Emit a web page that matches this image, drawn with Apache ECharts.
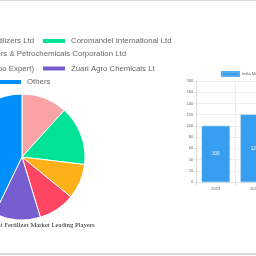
<!DOCTYPE html>
<html>
<head>
<meta charset="utf-8">
<script src="https://cdn.jsdelivr.net/npm/echarts@6/dist/echarts.min.js"></script>
<style>
html,body{margin:0;padding:0;background:#fff;}
#wrap{position:relative;width:256px;height:256px;overflow:hidden;}
#chart{position:absolute;left:0;top:0;width:256px;height:256px;}
.ln{position:absolute;left:0;width:256px;background:#d9d9d9;}
</style>
</head>
<body>
<div id="wrap">
<div id="chart"></div>
<div class="ln" style="top:0;height:1px;"></div>
<div class="ln" style="top:253px;height:2px;"></div>
</div>
<script>
// Pie: leading players share (%)
const playerNames = [
  'Chambal Fertilizers Ltd',
  'Coromandel International Ltd',
  'Deepak Fertilizers & Petrochemicals Corporation Ltd',
  'Aries Agro Ltd (Agroo Expert)',
  'Zuari Agro Chemicals Lt',
  'Others'
];
const playerShares = [11.7, 15.2, 9.0, 9.4, 11.9, 42.8];
const playerColors = ['#f9a3a4', '#00e396', '#feb019', '#ff4560', '#775dd0', '#008ffb'];
const pieTitle = 'India Micronutrient Fertilizer Market Leading Players';

// Bar: market size
const barSeriesName = 'India Micronutrient Fertilizer Market';
const years = ['2023', '2024'];
const marketValues = [100, 120];

const chart = echarts.init(document.getElementById('chart'), null, {renderer: 'canvas'});

const legendText = {fontFamily: 'Liberation Sans, Arial, sans-serif', fontSize: 7.8, color: '#666', lineHeight: 10};
function pieLegend(name, pos) {
  return Object.assign({
    data: [name], icon: 'rect', itemWidth: 24, itemHeight: 6, itemGap: 0, padding: 0,
    textStyle: legendText, selectedMode: false, orient: 'horizontal'
  }, pos);
}

const option = {
  animation: false,
  color: playerColors,
  title: {
    text: pieTitle, left: -50, top: 222, padding: 0,
    textStyle: {fontFamily: 'Liberation Serif, Times New Roman, serif', fontSize: 6.7, fontWeight: 'normal', color: '#222'}
  },
  legend: [
    pieLegend(playerNames[0], {right: 222, top: 36}),
    pieLegend(playerNames[1], {left: 41, top: 36}),
    pieLegend(playerNames[2], {right: 130, top: 49}),
    pieLegend(playerNames[3], {right: 222, top: 63.5}),
    pieLegend(playerNames[4], {left: 41, top: 63.5}),
    pieLegend(playerNames[5], {left: -3, top: 77}),
    {
      data: [barSeriesName], icon: 'rect', itemWidth: 17, itemHeight: 4, padding: 0,
      left: 221, top: 71, selectedMode: false,
      textStyle: {fontFamily: 'Liberation Sans, Arial, sans-serif', fontSize: 4, color: '#666', padding: [0, 0, 0, -2]}
    }
  ],
  grid: {left: 196.3, top: 81, bottom: 74, right: -18, containLabel: false, outerBoundsMode: 'none'},
  xAxis: {
    type: 'category', data: years, boundaryGap: true,
    axisLine: {show: true, lineStyle: {color: '#e0e0e0', width: 1}},
    axisTick: {show: true, length: 3, lineStyle: {color: '#e0e0e0'}},
    splitLine: {show: true, lineStyle: {color: '#eeeeee', width: 1}},
    axisLabel: {fontFamily: 'Liberation Sans, Arial, sans-serif', fontSize: 4, color: '#666', margin: 5}
  },
  yAxis: {
    type: 'value', min: 0, max: 180, interval: 20,
    axisLine: {show: true, lineStyle: {color: '#e0e0e0', width: 1}},
    axisTick: {show: true, length: 2.5, lineStyle: {color: '#e8e8e8'}},
    splitLine: {show: true, lineStyle: {color: '#eeeeee', width: 1}},
    axisLabel: {fontFamily: 'Liberation Sans, Arial, sans-serif', fontSize: 4, color: '#666', margin: 3}
  },
  series: [
    {
      type: 'pie', name: 'Leading Players', center: [22, 157], radius: 63,
      startAngle: 90, clockwise: true, label: {show: false}, labelLine: {show: false},
      itemStyle: {borderColor: '#fff', borderWidth: 1},
      emphasis: {disabled: true},
      data: playerNames.map((n, i) => ({name: n, value: playerShares[i]}))
    },
    {
      type: 'bar', name: barSeriesName, data: marketValues, barWidth: '72%',
      itemStyle: {color: '#379ef0', borderColor: '#5aaef0', borderWidth: 0.5},
      label: {show: true, position: 'inside', color: '#fff', fontSize: 4.5, fontFamily: 'Liberation Sans, Arial, sans-serif'},
      emphasis: {disabled: true}
    }
  ]
};
chart.setOption(option);
</script>
</body>
</html>
